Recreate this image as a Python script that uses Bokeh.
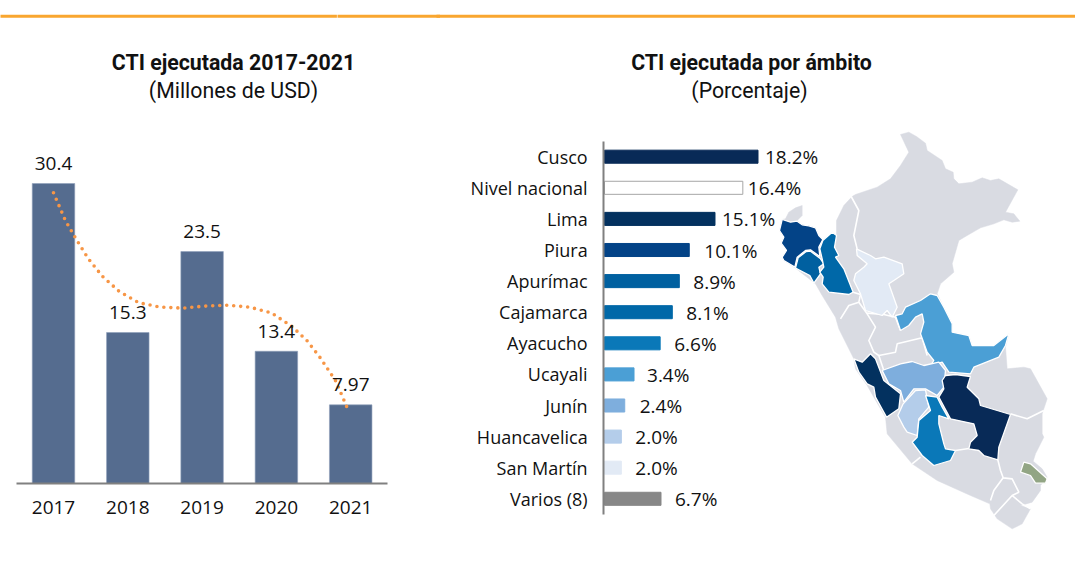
from bokeh.embed import file_html
from bokeh.resources import INLINE
from bokeh.plotting import figure
from bokeh.layouts import row
from bokeh.models import (ColumnDataSource, FixedTicker, Label, LinearAxis,
                          PrintfTickFormatter, Range1d)
from bokeh.core.properties import value

# ---------- left chart data ----------
YEARS = [2017, 2018, 2019, 2020, 2021]
CTI_USD = [30.4, 15.3, 23.5, 13.4, 7.97]
CTI_LABELS = ["30.4", "15.3", "23.5", "13.4", "7.97"]
TREND_X = [2017.0, 2017.16, 2017.31, 2017.47, 2017.66, 2017.88, 2018.15, 2018.44, 2018.74, 2019.03,
           2019.34, 2019.64, 2019.93, 2020.21, 2020.41, 2020.59, 2020.80, 2020.93, 2020.97]
TREND_Y = [29.46, 26.65, 24.69, 22.77, 20.98, 19.49, 18.31, 17.87, 17.77, 17.97,
           18.07, 17.87, 17.30, 15.91, 14.49, 12.74, 10.37, 8.08, 7.36]

# ---------- right chart data ----------
AMBITOS = ["Cusco", "Nivel nacional", "Lima", "Piura", "Apurímac", "Cajamarca", "Ayacucho",
           "Ucayali", "Junín", "Huancavelica", "San Martín", "Varios (8)"]
BAR_LEN = [18.2, 16.4, 13.1, 10.05, 8.87, 8.04, 6.6, 3.5, 2.4, 2.0, 2.0, 6.7]
PCT_LABELS = ["18.2%", "16.4%", "15.1%", "10.1%", "8.9%", "8.1%", "6.6%", "3.4%", "2.4%", "2.0%", "2.0%", "6.7%"]
LABEL_GAP = [7, 5, 7, 15, 14, 14, 14, 13, 15, 14, 14, 14]
BAR_COLORS = ["#082a57", "#ffffff", "#03315f", "#034387", "#0060a0", "#0068a8", "#0a78b8",
              "#4b9fd5", "#7eaedd", "#b4cdea", "#e2eaf5", "#878787"]
BAR_LINES = ["#082a57", "#a6a6a6", "#03315f", "#034387", "#0060a0", "#0068a8", "#0a78b8",
             "#4b9fd5", "#7eaedd", "#b4cdea", "#e2eaf5", "#878787"]
FOOTER = ["Fuente y elaboración: SIGCTI-ADSI"]

# ---------- map outlines (map units) ----------
PERU = [(75,295),(85,275),(105,262),(125,255),(125,285),(110,300),(125,313),(145,316),(165,322),(175,345),(187,360),
        (215,335),(228,345),(228,300),(250,255),(275,228),(285,222),(350,200),(390,175),(420,135),(445,95),(420,42),
        (445,35),(468,48),(495,68),(500,90),(545,120),(555,145),(578,155),(580,175),(595,190),(635,185),(665,172),
        (690,180),(715,175),(772,208),(735,275),(760,280),(778,302),(755,305),(730,298),(700,310),(660,322),(620,345),
        (595,360),(575,430),(580,455),(540,490),(530,520),(550,560),(575,610),(575,635),(625,645),(635,675),(700,675),
        (745,640),(735,680),(740,745),(790,740),(810,745),(860,835),(850,865),(845,880),(845,940),(850,950),(825,1000),
        (818,1022),(845,1045),(860,1070),(840,1095),(840,1110),(815,1145),(780,1155),(810,1165),(785,1210),(755,1225),
        (710,1195),(690,1165),(688,1150),(630,1125),(530,1080),(455,1030),(380,940),(375,890),(340,830),(320,795),
        (285,745),(280,715),(235,625),(225,590),(185,525),(165,490),(105,443),(70,420),(65,410),(78,390),(62,368),
        (70,350),(57,330),(65,297)]
R_PIURA = [(65,297),(90,305),(110,302),(125,313),(145,316),(165,322),(175,345),(187,357),(175,380),(178,408),(150,388),
           (135,390),(110,410),(103,440),(70,420),(65,410),(78,390),(62,368),(70,350),(57,330)]
R_APURIMAC = [(137,393),(150,392),(180,415),(190,430),(175,440),(180,460),(160,488),(148,465),(105,443),(113,412)]
R_CAJAMARCA = [(215,335),(228,345),(222,380),(235,405),(225,410),(250,445),(278,515),(265,522),(205,515),(185,490),
               (188,470),(178,455),(190,440),(185,415),(178,385),(187,360)]
R_SANMARTIN = [(288,385),(330,405),(345,415),(370,410),(425,430),(430,460),(400,480),(385,490),(410,560),(395,590),
               (380,570),(365,585),(315,570),(300,520),(280,480),(285,460),(310,440),(320,430),(290,405)]
R_UCAYALI = [(405,585),(425,580),(435,560),(480,540),(510,520),(530,525),(550,560),(575,610),(575,635),(625,645),
             (635,675),(700,675),(745,640),(735,675),(715,710),(640,740),(630,760),(565,755),(545,725),(510,735),
             (520,720),(500,695),(480,640),(490,605),(485,580),(465,590),(445,615),(420,630)]
R_LIMA = [(280,715),(305,725),(330,700),(345,715),(370,780),(420,820),(415,865),(378,890),(345,830),(340,800),(320,790),(295,755)]
R_JUNIN = [(365,750),(420,730),(455,723),(490,735),(535,725),(555,750),(550,800),(530,825),(495,805),(460,805),(430,845),(420,810),(385,790)]
R_HUANCAVELICA = [(465,810),(495,808),(505,860),(475,895),(470,945),(440,935),(430,920),(412,885),(428,850)]
R_AYACUCHO = [(495,825),(530,830),(545,860),(565,895),(535,885),(535,910),(550,970),(555,985),(585,990),(570,1020),
              (520,1035),(485,1005),(455,965),(470,950),(475,900),(510,870)]
R_CUSCO = [(555,765),(585,762),(630,768),(620,800),(655,835),(660,855),(750,882),(715,980),(712,1018),(670,1005),
           (655,990),(625,985),(630,965),(650,945),(640,910),(570,895),(535,830),(550,805),(545,780)]
R_GREEN = [(790,1025),(810,1030),(860,1075),(855,1088),(825,1088),(810,1065),(780,1055)]
REGIONS = [R_PIURA, R_APURIMAC, R_CAJAMARCA, R_SANMARTIN, R_UCAYALI, R_LIMA, R_JUNIN, R_HUANCAVELICA, R_AYACUCHO, R_CUSCO, R_GREEN]
REGION_COLORS = ["#034387", "#0060a0", "#0068a8", "#e2eaf5", "#4b9fd5", "#03315f", "#7eaedd", "#b4cdea", "#0a78b8", "#082a57", "#92a584"]
INNER_LINES = [
    [(272,228),(295,270),(280,345),(290,385)],
    [(278,515),(300,522),(295,545),(265,555),(240,595)],
    [(295,545),(320,580),(345,620),(325,660),(340,695),(355,705),(405,695),(410,670),(485,652),(500,705)],
    [(320,578),(370,582),(405,590),(420,630)],
    [(355,705),(370,750)],
    [(455,1030),(480,1010)],
    [(585,990),(650,980)],
    [(712,1018),(720,1050),(728,1072),(755,1075),(775,1115),(755,1125),(700,1185)],
    [(690,1140),(700,1110),(728,1072)],
    [(755,1125),(785,1150),(810,1165)],
    [(750,880),(800,895),(850,870)],
]

TXT = "#111111"
LABEL_FONT = "Open Sans"
TITLE_FONT = "Roboto"
RULE = "#f9a62f"
H = 563
OVERLAP = 4
W1, W2 = 440, 635 + OVERLAP

# --------- left ---------
base_y, px_per_usd = 483, 300 / 30.4
x0_px, px_per_year = 53, 74.3
p1 = figure(width=W1, height=H, output_backend="svg", toolbar_location=None, x_axis_type=None, y_axis_type=None,
            x_range=Range1d(2017 - x0_px / px_per_year, 2017 + (W1 - x0_px) / px_per_year),
            y_range=Range1d((base_y - H) / px_per_usd, base_y / px_per_usd),
            min_border=0, min_border_left=0, min_border_right=0, min_border_top=0, min_border_bottom=0,
            outline_line_color=None)
src1 = ColumnDataSource(dict(x=YEARS, y=CTI_USD, t=CTI_LABELS))
p1.vbar(x="x", top="y", width=0.572, bottom=0, source=src1, fill_color="#556c8f", line_color="#8ea0ba", line_width=0.6)
p1.line(TREND_X, TREND_Y, line_color="#f79646", line_width=3.6, line_dash="0 7", line_cap="round")
p1.text(x="x", y="y", text="t", source=src1, text_align="center", text_baseline="middle", y_offset=-20,
        text_font=value(LABEL_FONT), text_font_size="19px", text_color=TXT)
ax1 = LinearAxis(fixed_location=0, ticker=FixedTicker(ticks=YEARS), formatter=PrintfTickFormatter(format="%d"),
                 bounds=(2016.5, 2021.5), axis_line_color="#808080", axis_line_width=2,
                 major_tick_line_color=None, minor_tick_line_color=None, major_label_standoff=11,
                 major_label_text_font=LABEL_FONT, major_label_text_font_size="19px", major_label_text_color=TXT)
p1.add_layout(ax1, "below")
# the rule across the top: two pieces with a hairline between them, running past both frame edges
rule1_y = (base_y - 15.7) / px_per_usd
joint = 2017 + (336.7 - x0_px) / px_per_year
p1.segment([2000, joint + 0.004], [rule1_y, rule1_y], [joint - 0.004, 2040], [rule1_y, rule1_y], line_color=RULE, line_width=3)

def title(p, x, y, text, bold):
    p.add_layout(Label(x=x, y=H - y, x_units="screen", y_units="screen", text=text, text_align="center",
                       text_baseline="middle", text_font=TITLE_FONT, text_font_size="21.3px", text_color="#111111",
                       text_font_style="bold" if bold else "normal"))

title(p1, 233, 62, "CTI ejecutada 2017-2021", True)
title(p1, 233, 90, "(Millones de USD)", False)
# footer: only the tops of its letters show at the page's lower edge, as in the reference
p1.text(x=[2017 + (8 - x0_px) / px_per_year], y=[(base_y - 571) / px_per_usd], text=FOOTER,
        text_align="left", text_baseline="alphabetic", text_font=value(LABEL_FONT), text_font_size="15px", text_color="#444444")

# --------- right ---------
left = W1 - OVERLAP
x0_px2, px_per_pct = 604 - left, 153.5 / 18.2
y0_px2, px_per_row = 156.2, 31.1
p2 = figure(width=W2, height=H, output_backend="svg", toolbar_location=None, x_axis_type=None, y_axis_type=None,
            x_range=Range1d(-x0_px2 / px_per_pct, (W2 - x0_px2) / px_per_pct),
            y_range=Range1d((H - y0_px2) / px_per_row, -y0_px2 / px_per_row),
            min_border=0, min_border_left=0, min_border_right=0, min_border_top=0, min_border_bottom=0,
            outline_line_color=None, background_fill_color=None, border_fill_color=None,
            margin=(0, 0, 0, -OVERLAP))
rows = list(range(len(AMBITOS)))
src2 = ColumnDataSource(dict(y=rows, w=BAR_LEN, c=BAR_COLORS, l=BAR_LINES, t=PCT_LABELS, g=LABEL_GAP))
# map behind the bars
p2.extra_x_ranges["map"] = Range1d((left - 760) * 3, (left + W2 - 760) * 3)
p2.extra_y_ranges["map"] = Range1d((H - 120) * 3, -120 * 3)
p2.patch([a for a, b in PERU], [b for a, b in PERU], x_range_name="map", y_range_name="map",
         fill_color="#d9dbe2", line_color="#d9dbe2", line_width=0.5)
p2.multi_line([[a for a, b in l] for l in INNER_LINES], [[b for a, b in l] for l in INNER_LINES],
              x_range_name="map", y_range_name="map", line_color="#ffffff", line_width=1.6)
p2.patches([[a for a, b in r] for r in REGIONS], [[b for a, b in r] for r in REGIONS], x_range_name="map", y_range_name="map",
           fill_color=REGION_COLORS, line_color="#ffffff", line_width=1.3)
p2.hbar(y="y", left=0, right="w", height=0.42, source=src2, fill_color="c", line_color="l", line_width=1)
p2.text(x="w", y="y", text="t", source=src2, text_align="left", text_baseline="middle", x_offset="g", y_offset=0.5,
        text_font=value(LABEL_FONT), text_font_size="19px", text_color=TXT)
ax2 = LinearAxis(fixed_location=-0.1, ticker=FixedTicker(ticks=rows), bounds=(-0.5, 11.5),
                 major_label_overrides={i: n for i, n in enumerate(AMBITOS)},
                 axis_line_color="#808080", axis_line_width=2, major_tick_line_color=None, minor_tick_line_color=None,
                 major_label_standoff=10, major_label_text_font=LABEL_FONT, major_label_text_font_size="18px",
                 major_label_text_color=TXT)
p2.add_layout(ax2, "left")
rule2_y = (15.7 - y0_px2) / px_per_row
p2.segment([-100], [rule2_y], [200], [rule2_y], line_color=RULE, line_width=3)
title(p2, 751 - left, 62, "CTI ejecutada por ámbito", True)
title(p2, 749 - left, 90, "(Porcentaje)", False)

root = row(p1, p2, spacing=0)
open("out.html", "w").write(file_html(root, INLINE))
